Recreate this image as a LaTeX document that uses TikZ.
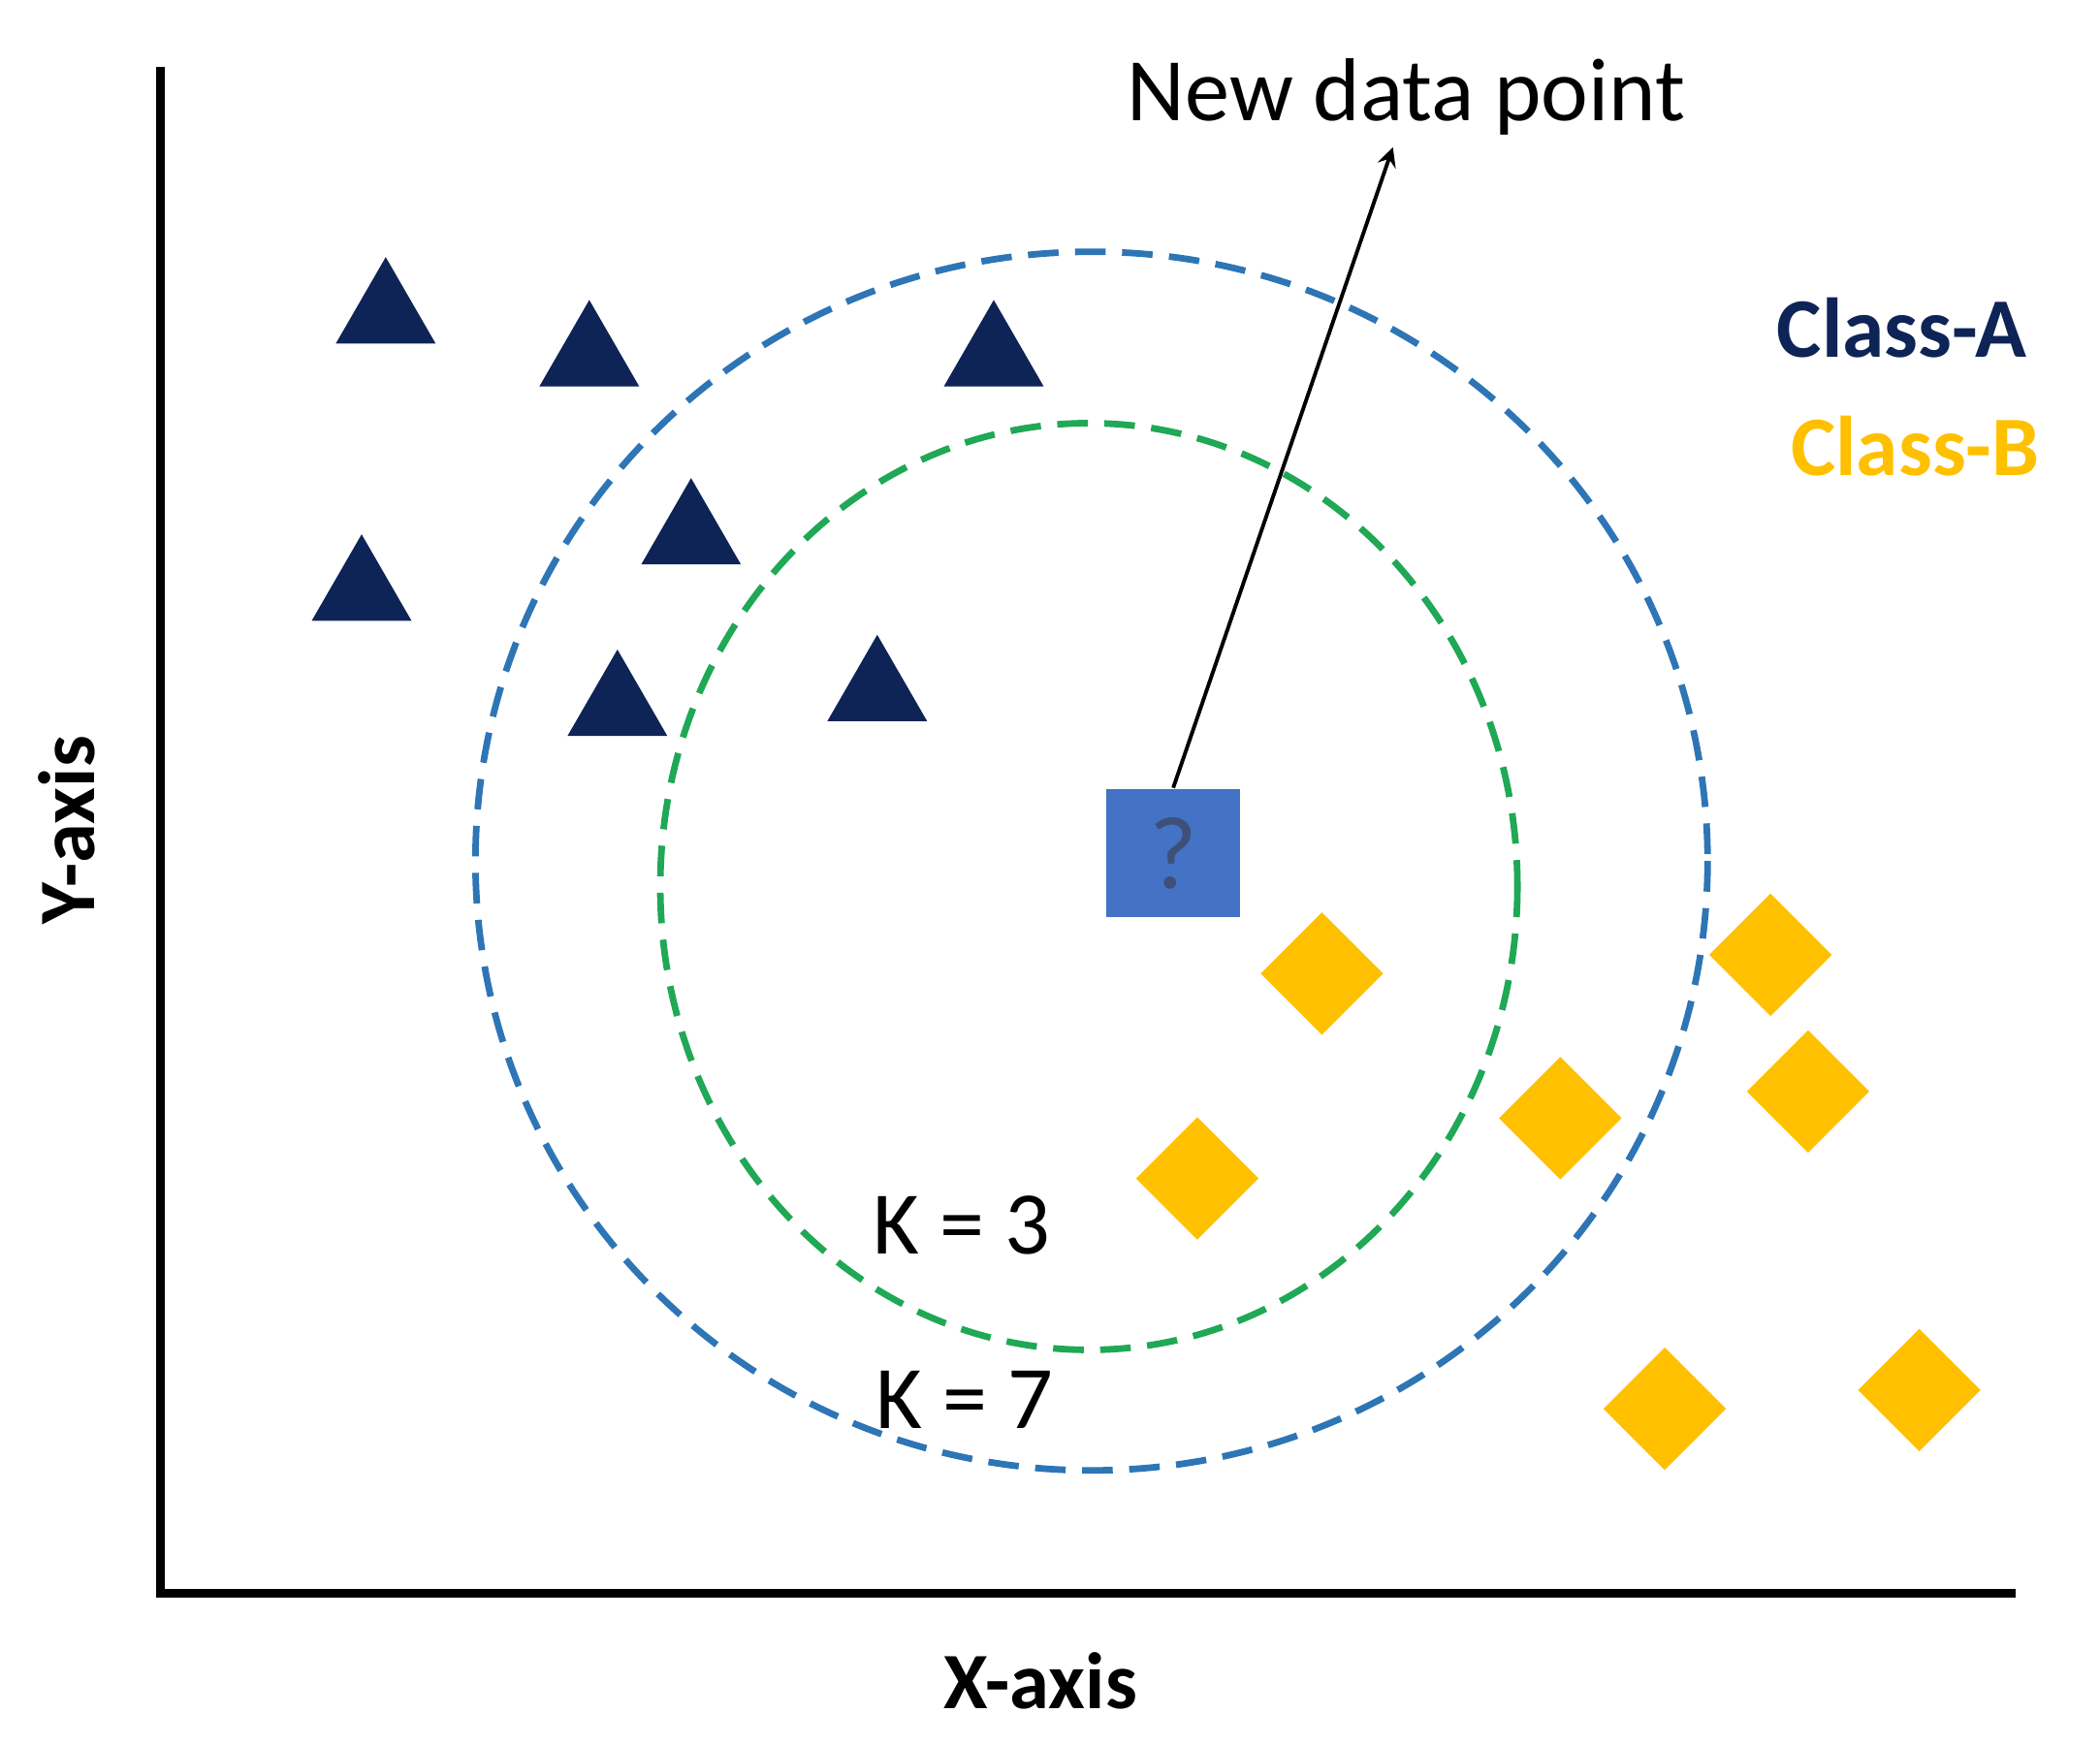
\documentclass[tikz,border=0pt]{standalone}
\usepackage{fontspec}
\setmainfont{Carlito}
\usetikzlibrary{shapes.geometric}
\definecolor{navyA}{HTML}{0E2456}
\definecolor{goldB}{HTML}{FFC000}
\definecolor{ringblue}{HTML}{2E75B6}
\definecolor{ringgreen}{HTML}{1FA855}
\definecolor{qbox}{HTML}{4472C4}
\tikzset{
 tri/.style={regular polygon,regular polygon sides=3,fill=navyA,minimum size=0.86cm,inner sep=0pt},
 dia/.style={diamond,fill=goldB,minimum size=0.92cm,inner sep=0pt},
 ring/.style={line width=1.4pt,dash pattern=on 6.5pt off 3.5pt}
}
\begin{document}
\begin{tikzpicture}[x=1cm,y=-1cm]
 \useasboundingbox (0,0) rectangle (15.68,13.03);
 \coordinate (top) at (1.2,0.5);
 \coordinate (origin) at (1.2,11.9);
 \coordinate (right) at (15.05,11.9);
 \draw[line width=1.8pt] (top) -- (origin) -- (right);

 \draw[ring,ringblue] (8.15,6.43) ellipse (4.6 and 4.55);
 \draw[ring,ringgreen] (8.13,6.62) ellipse (3.2 and 3.46);

 \node[tri] (a1) at (2.88,2.35){};
 \node[tri] (a2) at (4.40,2.67){};
 \node[tri] (a3) at (7.42,2.67){};
 \node[tri] (a4) at (5.16,4.00){};
 \node[tri] (a5) at (2.70,4.42){};
 \node[tri] (a6) at (4.61,5.28){};
 \node[tri] (a7) at (6.55,5.17){};

 \node[dia] (b1) at (9.87,7.27){};
 \node[dia] (b2) at (13.22,7.13){};
 \node[dia] (b3) at (11.65,8.35){};
 \node[dia] (b4) at (13.50,8.15){};
 \node[dia] (b5) at (8.94,8.80){};
 \node[dia] (b6) at (12.43,10.52){};
 \node[dia] (b7) at (14.33,10.38){};

 \node[fill=qbox,minimum width=1cm,minimum height=0.96cm,text=navyA!80,font=\fontsize{22}{24}\selectfont] (new) at (8.76,6.37){?};
 \node[font=\fontsize{19}{22}\selectfont] (lbl) at (10.5,0.72){New data point};
 \coordinate (tip) at (10.4,1.1);
 \draw[-stealth,thick] (new.north) -- (tip);

 \node[font=\bfseries\fontsize{18}{21}\selectfont,text=navyA] (ca) at (14.2,2.45){Class-A};
 \node[font=\bfseries\fontsize{18}{21}\selectfont,text=goldB] (cb) at (14.3,3.33){Class-B};
 \node[font=\fontsize{19}{22}\selectfont] (k3) at (7.18,9.15){K = 3};
 \node[font=\fontsize{19}{22}\selectfont] (k7) at (7.2,10.45){K = 7};
 \node[font=\bfseries\fontsize{17}{20}\selectfont,rotate=90] (ylab) at (0.5,6.2){Y-axis};
 \node[font=\bfseries\fontsize{17}{20}\selectfont] (xlab) at (7.77,12.55){X-axis};
\end{tikzpicture}
\end{document}
